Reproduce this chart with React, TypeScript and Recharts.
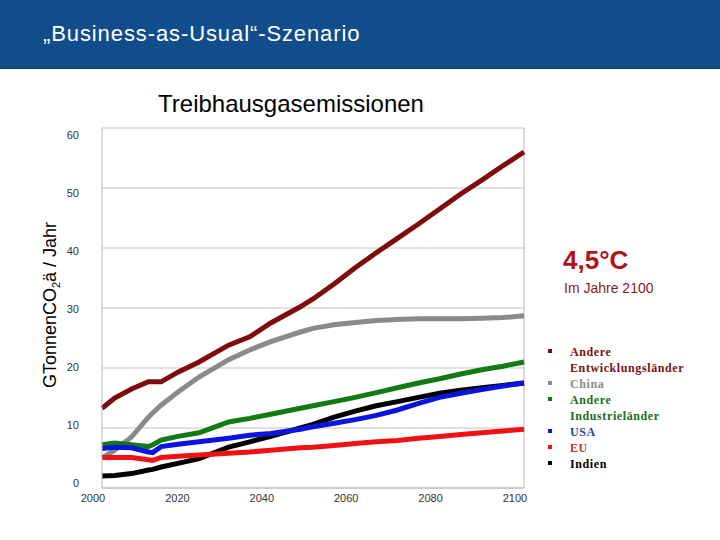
import React from "react";
import { LineChart, Line, XAxis, YAxis, CartesianGrid, ReferenceLine } from "recharts";

const years = [2000, 2003, 2007, 2011, 2012, 2014, 2018, 2023, 2030, 2035, 2040, 2047, 2050, 2055, 2060, 2065, 2070, 2075, 2080, 2085, 2090, 2095, 2100];
const andereEntw = [13.3, 15, 16.5, 17.7, 17.7, 17.7, 19.3, 21, 23.8, 25.2, 27.5, 30.2, 31.5, 34, 36.7, 39.2, 41.6, 44, 46.5, 49, 51.3, 53.7, 56];
const china = [5, 6.3, 8.5, 11.8, 12.5, 13.8, 16, 18.5, 21.4, 23, 24.4, 26, 26.6, 27.2, 27.6, 27.9, 28.1, 28.2, 28.2, 28.2, 28.3, 28.4, 28.7];
const andereInd = [7.2, 7.5, 7.2, 6.9, 7.2, 8, 8.6, 9.2, 11, 11.6, 12.3, 13.3, 13.7, 14.4, 15.1, 15.9, 16.7, 17.5, 18.2, 19, 19.7, 20.3, 21];
const usa = [6.6, 6.8, 6.7, 6, 5.9, 6.9, 7.3, 7.7, 8.3, 8.8, 9.1, 9.8, 10.2, 10.8, 11.4, 12.1, 13, 14.1, 15.1, 15.8, 16.4, 17, 17.5];
const indien = [2, 2.1, 2.4, 3, 3.1, 3.5, 4.1, 4.9, 6.8, 7.7, 8.6, 10, 10.6, 11.8, 12.8, 13.7, 14.4, 15.1, 15.8, 16.3, 16.7, 17.1, 17.5];
const eu = [5.1, 5.1, 5.1, 4.7, 4.6, 5.1, 5.3, 5.5, 5.8, 6.0, 6.3, 6.7, 6.8, 7.1, 7.4, 7.7, 7.9, 8.3, 8.6, 8.9, 9.2, 9.5, 9.8];

const xTicks = [2000, 2020, 2040, 2060, 2080, 2100];
const yTicks = [0, 10, 20, 30, 40, 50, 60];

const series = [
  { key: "andereEntw", values: andereEntw, color: "#7f0a0a", legend: ["Andere", "Entwicklungsländer"], text: "#7a1010" },
  { key: "china", values: china, color: "#8a8a8a", legend: ["China"], text: "#8a8a8a" },
  { key: "andereInd", values: andereInd, color: "#117a11", legend: ["Andere", "Industrieländer"], text: "#1a6e1a" },
  { key: "indien", values: indien, color: "#000000", legend: ["Indien"], text: "#000000" },
  { key: "usa", values: usa, color: "#0a14e0", legend: ["USA"], text: "#1f3fa8" },
  { key: "eu", values: eu, color: "#f01212", legend: ["EU"], text: "#d0301e" },
];
const legendOrder = ["andereEntw", "china", "andereInd", "usa", "eu", "indien"];

const data = years.map((y, i) => {
  const row: any = { year: y };
  series.forEach((s) => (row[s.key] = s.values[i]));
  return row;
});

const FONT = "'Liberation Sans', Arial, sans-serif";

const YTick = (props: any) => {
  const { y, payload } = props;
  const ly = 135 + (y - 128) * (348 / 360);
  return (
    <text x={79} y={ly} textAnchor="end" dominantBaseline="central" fontFamily={FONT} fontSize={11} fill="#333">
      {payload.value}
    </text>
  );
};

const XTick = (props: any) => {
  const { x, payload } = props;
  return (
    <text x={x - 9} y={498} textAnchor="middle" dominantBaseline="central" fontFamily={FONT} fontSize={11} fill="#333">
      {payload.value}
    </text>
  );
};

const LegendBlock = () => {
  const lines: { t: string; c: string; first: boolean; sq: string }[] = [];
  legendOrder.forEach((k) => {
    const s = series.find((q) => q.key === k)!;
    s.legend.forEach((t, i) => lines.push({ t, c: s.text, first: i === 0, sq: s.color }));
  });
  return (
    <div style={{ position: "absolute", left: 548, top: 344, width: 170, fontFamily: "'Liberation Serif', 'Times New Roman', serif", fontWeight: "bold", fontSize: 12, letterSpacing: 0.6 }}>
      {lines.map((l, i) => (
        <div key={i} style={{ height: 16, lineHeight: "16px", position: "relative", paddingLeft: 22, color: l.c, whiteSpace: "nowrap" }}>
          {l.first && <span style={{ position: "absolute", left: 0, top: 5, width: 4, height: 4, background: l.sq }} />}
          {l.t}
        </div>
      ))}
    </div>
  );
};

export default function App() {
  return (
    <div style={{ position: "absolute", left: 0, top: 0, width: 720, height: 540, background: "#fff", overflow: "hidden" }}>
      <div style={{ position: "absolute", left: 0, top: 0, width: 720, height: 68, background: "#124d8b", borderBottom: "1px solid #0d3a69" }} />
      <div style={{ position: "absolute", left: 43, top: 21, fontFamily: FONT, fontSize: 22, letterSpacing: 0.9, color: "#fff", whiteSpace: "nowrap" }}>
        „Business-as-Usual“-Szenario
      </div>
      <div style={{ position: "absolute", left: 0, width: 582, top: 90, textAlign: "center", fontFamily: FONT, fontSize: 24, color: "#000" }}>
        Treibhausgasemissionen
      </div>
      <div style={{ position: "absolute", left: 563, top: 245, fontFamily: FONT, fontSize: 26, fontWeight: "bold", color: "#b01414" }}>
        4,5°C
      </div>
      <div style={{ position: "absolute", left: 564, top: 280, fontFamily: FONT, fontSize: 14, color: "#8a1a1a" }}>
        Im Jahre 2100
      </div>
      <div style={{ position: "absolute", left: 0, top: 0 }}>
        <LineChart width={720} height={540} data={data} margin={{ top: 128, right: 196, bottom: 0, left: 42 }}>
          <CartesianGrid vertical={false} stroke="#c4c4c4" />
          <XAxis
            dataKey="year"
            type="number"
            domain={[2000, 2100]}
            ticks={xTicks}
            height={52}
            tick={<XTick />}
            tickLine={false}
            axisLine={{ stroke: "#b8b8b8" }}
          />
          <YAxis
            domain={[0, 60]}
            ticks={yTicks}
            width={60}
            tick={<YTick />}
            tickLine={false}
            axisLine={{ stroke: "#b8b8b8" }}
          />
          <ReferenceLine x={2100} stroke="#b8b8b8" />
          {series.map((s) => (
            <Line
              key={s.key}
              dataKey={s.key}
              stroke={s.color}
              strokeWidth={5}
              dot={false}
              type="linear"
              isAnimationActive={false}
            />
          ))}
        </LineChart>
      </div>
      <LegendBlock />
      <svg style={{ position: "absolute", left: 0, top: 0 }} width={80} height={540}>
        <text transform="translate(56,305) rotate(-90)" textAnchor="middle" fontFamily={FONT} fontSize={18} fill="#000">
          GTonnenCO<tspan fontSize={11} dy={4}>2</tspan><tspan dy={-4}>ä / Jahr</tspan>
        </text>
      </svg>
    </div>
  );
}
